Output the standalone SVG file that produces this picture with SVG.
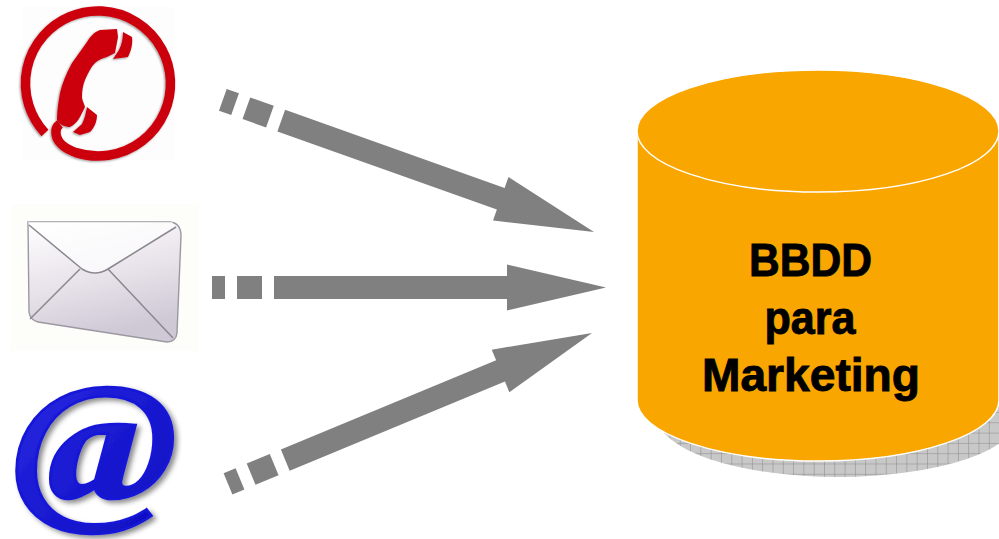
<svg xmlns="http://www.w3.org/2000/svg" width="999" height="539" viewBox="0 0 999 539">
<style>
.arrow{fill:#808080}
.lbl{font-family:"Liberation Sans",Arial,sans-serif;font-weight:700;font-size:46px;fill:#000;stroke:#000;stroke-width:.9;text-anchor:middle}
.red{fill:#cc0010}
</style>
<defs>
<pattern id="hatch" width="10.3" height="10.3" patternUnits="userSpaceOnUse">
<rect width="10.3" height="10.3" fill="#c8c8c8"/>
<path d="M0 0V10.3M0 0H10.3" stroke="#878787" stroke-width="1" fill="none"/>
</pattern>
<linearGradient id="env" x1="0" y1="0" x2="0.3" y2="1">
<stop offset="0" stop-color="#ffffff"/><stop offset="0.55" stop-color="#e8e2ea"/><stop offset="1" stop-color="#cfc9d6"/>
</linearGradient>
<linearGradient id="blue" x1="0" y1="0" x2="1" y2="1">
<stop offset="0" stop-color="#2a2ae6"/><stop offset="1" stop-color="#0c0cc0"/>
</linearGradient>
<filter id="soft" x="-10%" y="-10%" width="125%" height="125%">
<feDropShadow dx="3" dy="3" stdDeviation="2.5" flood-color="#000" flood-opacity="0.45"/>
</filter>
<filter id="softr" x="-10%" y="-10%" width="120%" height="120%">
<feGaussianBlur in="SourceGraphic" stdDeviation="0.4" result="b"/>
<feDropShadow in="b" dx="-1" dy="1" stdDeviation="1" flood-color="#000" flood-opacity="0.4"/>
</filter>
<filter id="envsoft" x="-10%" y="-10%" width="120%" height="120%">
<feGaussianBlur stdDeviation="0.6"/>
</filter>
<g id="arrowShape">
<path d="M0 0L-99-23V-11.5H-332V11.5H-99V23Z"/>
<rect x="-369" y="-11.5" width="25" height="23"/>
<rect x="-394" y="-11.5" width="13" height="23"/>
</g>
</defs>
<rect width="999" height="539" fill="#fff"/>

<g id="connectors" class="arrow">
<use href="#arrowShape" transform="translate(594 232) rotate(19.6)"/>
<use href="#arrowShape" transform="translate(606 287.5)"/>
<use href="#arrowShape" transform="translate(592 333) rotate(-22.5)"/>
</g>

<g id="node-phone">
<rect x="22" y="7" width="152" height="153" fill="#fdfdfd"/>
<g filter="url(#softr)">
<path d="M45 133A72.5 72.5 0 1 1 76 152.6C66 149 55 142 56 131Q56 127 60 124" fill="none" stroke="#cc0010" stroke-width="9.5"/>
<path class="red" d="M117 29L100 30C94 32 90 37 87 42L72 63C66 74 62 84 60 93C58 104 57 112 57 120C60 125 65 127 70 127C74 125 78 121 80 117L85 107C84 103 82 100 82 97C82 90 83 85 85 80C88 73 91 67 95 63C98 60 103 58 107 57L115 53L118 37Z"/>
<path class="red" d="M123 32L132 37C133 44 131 51 128 57L113 59L119 50C122 44 123 38 123 32Z"/>
<path class="red" d="M87 107L97 115C97 122 94 128 90 132L80 135L73 132L82 124C85 118 86 112 87 107Z"/>
</g>
</g>

<g id="node-mail">
<rect x="11" y="204" width="188" height="147" fill="#fdfdf9"/>
<g filter="url(#envsoft)">
<path d="M28 222H170Q181 223 181 236L177 333Q176 342 167 342L38 322Q30 320 29 312Z" fill="url(#env)" stroke="#9c98a2" stroke-width="1.4"/>
<path d="M29 225L82 269Q95 277 108 269L176 227L172 222H28Z" fill="#fff" fill-opacity="0.7"/>
<path d="M29 225L82 269Q95 277 108 269L176 227" fill="none" stroke="#8a878e" stroke-width="1.5"/>
<path d="M80 269L30 319M108 269L173 338" fill="none" stroke="#8a878e" stroke-width="1.5"/>
</g>
</g>

<g id="node-at">
<text transform="translate(95 501) scale(1.16 1)" x="0" y="0" font-family="'Liberation Serif',serif" font-weight="700" font-style="italic" font-size="172" text-anchor="middle" fill="url(#blue)" stroke="#1616d8" stroke-width="2.5" filter="url(#soft)">@</text>
</g>

<g id="node-db">
<ellipse cx="838" cy="416" rx="181" ry="61" fill="url(#hatch)"/>
<path d="M637 131V400A181 61 0 0 0 999 400V131Z" fill="#f9a600" stroke="#fff" stroke-width="1.5"/>
<ellipse cx="818" cy="131" rx="181" ry="61" fill="#f9a600" stroke="#fff" stroke-width="1.5"/>
<text class="lbl" x="810.5" y="275.5" textLength="123" lengthAdjust="spacingAndGlyphs">BBDD</text>
<text class="lbl" x="810" y="333.5" textLength="91" lengthAdjust="spacingAndGlyphs">para</text>
<text class="lbl" x="811" y="391" textLength="218" lengthAdjust="spacingAndGlyphs">Marketing</text>
</g>
</svg>
